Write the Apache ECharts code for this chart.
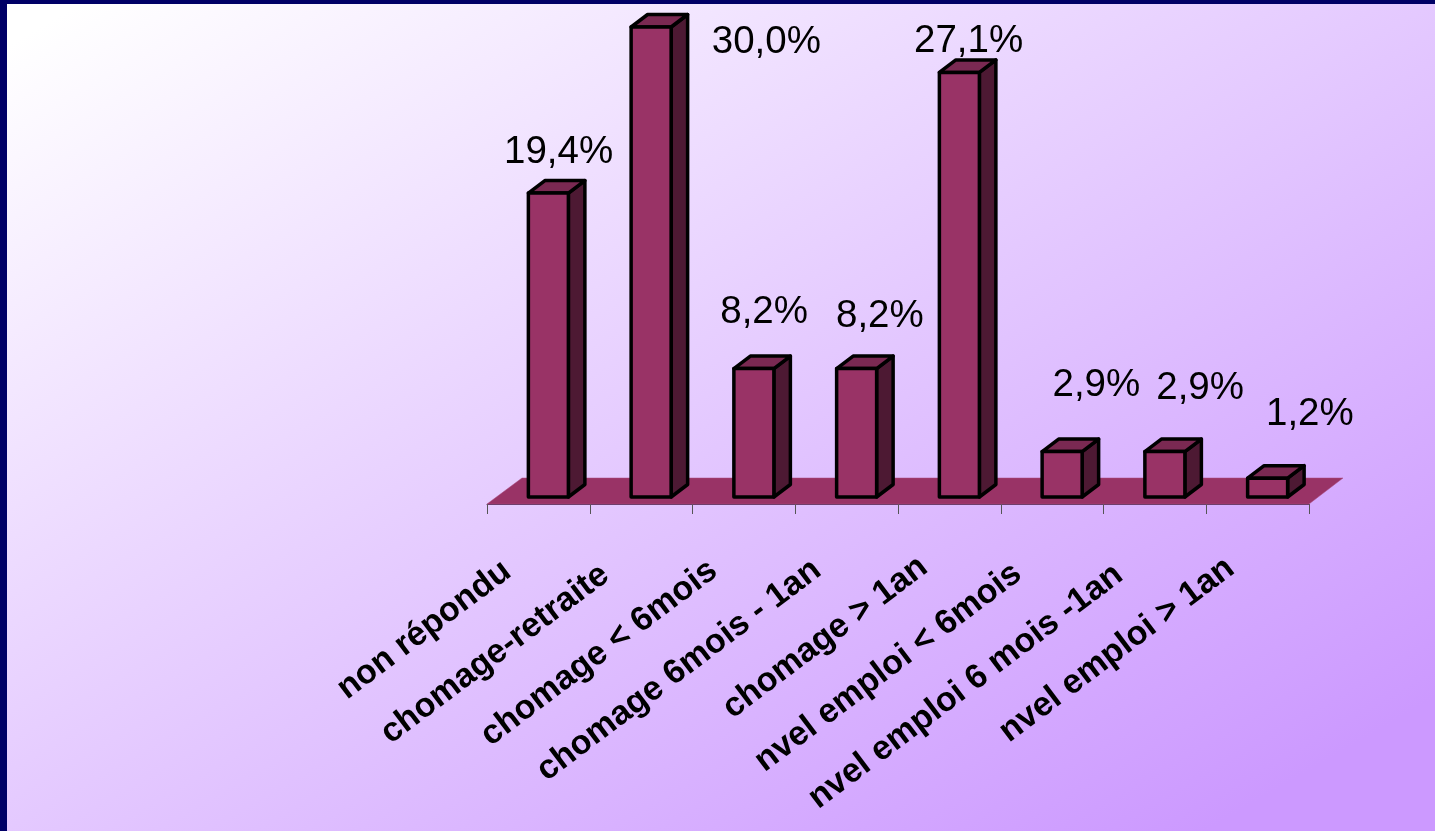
<!DOCTYPE html>
<html><head><meta charset="utf-8">
<style>html,body{margin:0;padding:0;overflow:hidden}#c{width:1435px;height:831px}</style>
<script src="https://cdn.jsdelivr.net/npm/echarts@6/dist/echarts.min.js"></script>
</head><body><div id="c"></div>
<script>
const categories = ['non répondu','chomage-retraite','chomage < 6mois','chomage 6mois - 1an','chomage > 1an','nvel emploi < 6mois','nvel emploi 6 mois -1an','nvel emploi > 1an'];
const values = [19.4,30.0,8.2,8.2,27.1,2.9,2.9,1.2];
const labelNudgeX = [2,107,2,15,1,26,27,34];
const labelNudgeY = [-41,15,-56,-52,-31,-66,-63,-64];
const axisLabelPad = [39,45,38,37,32,43,45,34];
const axisLabelLift = [12,4,3,0,0,0,0,0];

const W=1435,H=831;
const chart = echarts.init(document.getElementById('c'),null,{renderer:'canvas',width:W,height:H});
const FRONT='#993366',SIDE='#4D1933',TOP='#7A2952';
const barW=40,dx=16.5,dy=12.5,shift=10;
const fmt=v=>v.toFixed(1).replace('.',',')+'%';

function renderBar(params,api){
  const i=api.value(0),v=api.value(1);
  const c=api.coord([i,v]),b=api.coord([i,0]);
  const x0=c[0]+shift-barW/2,x1=x0+barW,yt=c[1],yb=b[1];
  const ln={stroke:'#000',lineWidth:3.5,lineJoin:'round'};
  return {type:'group',children:[
    {type:'polygon',shape:{points:[[x1,yt],[x1+dx,yt-dy],[x1+dx,yb-dy],[x1,yb]]},style:{fill:SIDE,...ln}},
    {type:'polygon',shape:{points:[[x0,yt],[x0+dx,yt-dy],[x1+dx,yt-dy],[x1,yt]]},style:{fill:TOP,...ln}},
    {type:'rect',shape:{x:x0,y:yt,width:barW,height:yb-yt},style:{fill:FRONT,...ln}},
    {type:'text',x:c[0]+shift+labelNudgeX[i]+dx/2,y:yt+labelNudgeY[i],
      style:{text:fmt(v),font:'38.5px "Liberation Sans"',fill:'#000',align:'center',verticalAlign:'middle'}}
  ]};
}
function renderFloor(params,api){
  const n=categories.length;
  const a=api.coord([0,0]),z=api.coord([n-1,0]);
  const band=api.size([1,0])[0];
  const L=a[0]-band/2,R=z[0]+band/2,y=a[1];
  return {type:'polygon',shape:{points:[[L,y+7],[L+35,y-19],[R+34,y-19],[R,y+7]]},style:{fill:FRONT,stroke:'#A84A7C',lineWidth:0.5}};
}
const d=2*W*H/(H*H+W*W);
chart.setOption({
  animation:false,
  graphic:[
    {type:'rect',z:-10,silent:true,shape:{x:0,y:0,width:W,height:H},style:{fill:'#000066'}},
    {type:'rect',z:-9,silent:true,shape:{x:7,y:4,width:W-7,height:H-4},
     style:{fill:new echarts.graphic.LinearGradient(0,0,d*H,d*W,[{offset:0.03,color:'#FFFFFF'},{offset:0.92,color:'#CC99FF'},{offset:1,color:'#CC99FF'}],true)}}
  ],
  grid:{left:487,top:27,width:822,height:470},
  xAxis:{type:'category',offset:7,
    data:categories.map((c,i)=>({value:c,textStyle:{padding:[0,axisLabelPad[i],axisLabelLift[i],0]}})),
    axisLine:{show:true,onZero:false,lineStyle:{color:'#5C3A66',width:1}},
    axisTick:{show:true,length:10,lineStyle:{color:'#555',width:1}},
    axisLabel:{interval:0,rotate:37,margin:40,fontFamily:'Liberation Sans',fontWeight:'bold',fontSize:34,color:'#000'}},
  yAxis:{type:'value',min:0,max:30,show:false,splitLine:{show:false}},
  series:[
    {type:'custom',renderItem:renderFloor,data:[[0,0]],z:1,silent:true,encode:{x:0,y:1}},
    {type:'custom',renderItem:renderBar,data:values.map((v,i)=>[i,v]),z:2,encode:{x:0,y:1}}
  ]
});
</script></body></html>
